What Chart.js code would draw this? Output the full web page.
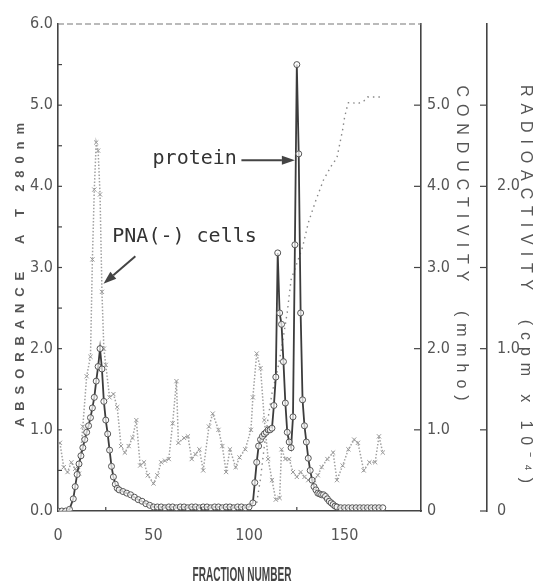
<!DOCTYPE html>
<html><head><meta charset="utf-8">
<script src="https://cdn.jsdelivr.net/npm/chart.js@4.4.0/dist/chart.umd.min.js"></script>
<style>html,body{margin:0;padding:0;background:#fff;}canvas{display:block}</style>
</head><body>
<canvas id="c" width="543" height="584"></canvas>
<script>
// ---- data ----
const absFractions = [0,2,4,6,8,9,10,11,12,13,14,15,16,17,18,19,20,21,22,23,24,25,26,27,28,29,30,31,32,
  34,36,38,40,42,44,46,48,50,52,54,56,58,60,62,64,66,68,70,72,74,76,78,80,82,84,86,88,90,92,94,96,98,100,
  102,103,104,105,106,107,108,109,110,111,112,113,114,115,116,117,118,119,120,121,122,123,124,125,126,127,128,
  129,130,131,132,133,134,135,136,137,138,139,140,141,142,143,144,145,146,148,150,152,154,156,158,160,162,164,166,168,170];
const absorbance = [0,0,0,0.02,0.15,0.3,0.45,0.58,0.68,0.78,0.88,0.97,1.05,1.15,1.27,1.4,1.6,1.78,2.0,1.75,1.35,1.12,0.95,0.75,0.55,0.42,0.33,0.28,0.26,
  0.24,0.22,0.2,0.17,0.14,0.12,0.09,0.07,0.05,0.05,0.05,0.04,0.05,0.05,0.04,0.05,0.05,0.04,0.05,0.05,0.04,0.05,0.05,0.04,0.05,0.05,0.04,0.05,0.05,0.04,0.05,0.05,0.04,0.05,
  0.1,0.35,0.6,0.8,0.88,0.92,0.95,0.97,1.0,1.0,1.02,1.3,1.65,3.18,2.44,2.3,1.84,1.33,0.97,0.85,0.78,1.16,3.28,5.5,4.4,2.44,1.37,
  1.05,0.85,0.65,0.5,0.38,0.3,0.26,0.22,0.21,0.2,0.2,0.18,0.15,0.12,0.1,0.08,0.06,0.05,0.04,0.04,0.04,0.04,0.04,0.04,0.04,0.04,0.04,0.04,0.04,0.04];

const radioFractions = [1,3,5,7,9,11,13,15,17,18,19,20,21,22,23,24,25,27,29,31,33,35,37,39,41,43,45,47,
  50,52,54,56,58,60,62,63,66,68,70,72,74,76,79,81,84,86,88,90,93,95,98,101,102,104,106,108,110,112,114,116,117,
  119,121,123,125,127,129,131,134,136,138,141,144,146,149,152,155,157,160,163,166,168,170];
const radioactivity = [0.42,0.27,0.24,0.3,0.26,0.23,0.52,0.83,0.95,1.55,1.98,2.27,2.22,1.95,1.35,1.0,0.9,0.7,0.72,0.64,0.4,0.36,0.4,0.45,0.56,0.28,0.3,0.22,
  0.17,0.22,0.3,0.31,0.32,0.54,0.8,0.42,0.45,0.46,0.32,0.35,0.38,0.25,0.52,0.6,0.5,0.4,0.24,0.38,0.27,0.33,0.38,0.5,0.7,0.97,0.88,0.56,0.32,0.19,0.07,0.08,0.38,
  0.32,0.32,0.24,0.21,0.24,0.21,0.19,0.19,0.22,0.27,0.32,0.36,0.19,0.28,0.38,0.44,0.42,0.25,0.3,0.3,0.46,0.36];

const condFractions = [104,106,108,110,112,115,117,120,122,125,128,131,135,139,143,146,149,150,151,152,154,157,160,162,165,168,170];
const conductivity = [0.1,0.4,0.8,1.15,1.45,1.75,2.0,2.45,2.85,3.05,3.25,3.55,3.83,4.08,4.25,4.35,4.7,4.85,4.95,5.03,5.03,5.02,5.05,5.1,5.1,5.1,5.1];

const xTickLabels = [0, 50, 100, 150];
const absTickLabels = [0, 1, 2, 3, 4, 5, 6];
const condTickLabels = [0, 1, 2, 3, 4, 5];
const radioTickLabels = [0, 1, 2];

// ---- text ----
const xTitle = 'FRACTION NUMBER';
const yTitle = 'ABSORBANCE  A T 280nm';
const condTitle = 'CONDUCTIVITY  (mmho)';
const radioTitle = 'RADIOACTIVITY  (cpm x 10\u207B\u2074)';
const notes = [
  {text: 'protein', tx: 49.5, ty: 4.28, from: [96, 4.32], to: [124, 4.32]},
  {text: 'PNA(-) cells', tx: 28.4, ty: 3.31, from: [40.5, 3.14], to: [23.8, 2.8]}
];

const pts = (xs, ys) => xs.map((x, i) => ({x, y: ys[i]}));
const tickFont = {family: '"DejaVu Sans Condensed", "DejaVu Sans", sans-serif', size: 16};
const inkGrey = '#555';

function spacedText(ctx, text, cx, cy, rot, font, len, color) {
  ctx.save();
  ctx.translate(cx, cy); ctx.rotate(rot);
  ctx.font = font; ctx.fillStyle = color; ctx.textBaseline = 'middle'; ctx.textAlign = 'left';
  const chars = [...text];
  const widths = chars.map(c => ctx.measureText(c).width);
  const total = widths.reduce((a, b) => a + b, 0);
  const gap = (len - total) / (chars.length - 1);
  let x = -len / 2;
  chars.forEach((c, i) => { ctx.fillText(c, x, 0); x += widths[i] + gap; });
  ctx.restore();
}

function arrow(ctx, x1, y1, x2, y2) {
  const a = Math.atan2(y2 - y1, x2 - x1), L = 13, W = 4.5;
  const bx = x2 - L * Math.cos(a), by = y2 - L * Math.sin(a);
  ctx.beginPath(); ctx.moveTo(x1, y1); ctx.lineTo(bx, by); ctx.stroke();
  ctx.beginPath(); ctx.moveTo(x2, y2);
  ctx.lineTo(bx + W * Math.sin(a), by - W * Math.cos(a));
  ctx.lineTo(bx - W * Math.sin(a), by + W * Math.cos(a));
  ctx.closePath(); ctx.fill();
}

const overlay = {
  id: 'overlay',
  afterDraw(chart) {
    const {ctx, chartArea: ca} = chart;
    const {x, y, yc, yr} = chart.scales;
    const seg = (a, b, c, d) => { ctx.beginPath(); ctx.moveTo(a, b); ctx.lineTo(c, d); ctx.stroke(); };
    ctx.save();
    // top frame (dashed)
    ctx.strokeStyle = '#777'; ctx.lineWidth = 1.2; ctx.setLineDash([6, 3]);
    seg(ca.left, ca.top, ca.right, ca.top);
    ctx.setLineDash([]);
    // inward ticks
    ctx.strokeStyle = '#444'; ctx.lineWidth = 1.2;
    for (let v = 0.5; v < 6; v += 0.5) { const p = y.getPixelForValue(v); seg(ca.left, p, ca.left + 4, p); }
    for (const v of [25, 75, 125]) { const p = x.getPixelForValue(v); seg(p, ca.bottom, p, ca.bottom - 4); }
    for (let v = 1; v <= 5; v++) { const p = yc.getPixelForValue(v); seg(yc.left - 7, p, yc.left, p); }
    for (let v = 0; v <= 2.5; v += 0.5) { const p = yr.getPixelForValue(v); seg(yr.left - 7, p, yr.left, p); }
    // axis titles
    const titleFont = '16px "Liberation Sans", Arial, sans-serif';
    spacedText(ctx, yTitle, 20, 275, -Math.PI / 2, 'bold 13px "Liberation Sans", Arial, sans-serif', 304, '#555');
    spacedText(ctx, condTitle, 461, 243, Math.PI / 2, titleFont, 315, '#555');
    spacedText(ctx, radioTitle, 525, 284, Math.PI / 2, titleFont, 398, '#555');
    // x title (tall condensed lettering)
    ctx.save();
    ctx.font = 'bold 21px "Liberation Sans", sans-serif';
    const w = ctx.measureText(xTitle).width;
    ctx.translate(242, 574); ctx.scale(99 / w, 1);
    ctx.fillStyle = '#444'; ctx.textAlign = 'center'; ctx.textBaseline = 'middle';
    ctx.fillText(xTitle, 0, 1);
    ctx.restore();
    // annotations
    ctx.fillStyle = '#333'; ctx.strokeStyle = '#444'; ctx.lineWidth = 2;
    ctx.font = '20px "DejaVu Sans Mono", monospace';
    ctx.textBaseline = 'alphabetic'; ctx.textAlign = 'left';
    for (const n of notes) {
      ctx.fillText(n.text, x.getPixelForValue(n.tx), y.getPixelForValue(n.ty));
      ctx.fillStyle = '#444';
      arrow(ctx, x.getPixelForValue(n.from[0]), y.getPixelForValue(n.from[1]),
                 x.getPixelForValue(n.to[0]), y.getPixelForValue(n.to[1]));
      ctx.fillStyle = '#333';
    }
    ctx.restore();
  }
};

const fmt1 = v => v.toFixed(1);
const noGrid = {display: false, drawTicks: false};

new Chart(document.getElementById('c'), {
  type: 'line',
  data: {
    datasets: [
      {label: 'Absorbance', data: pts(absFractions, absorbance), yAxisID: 'y',
        borderColor: '#3c3c3c', borderWidth: 1.8, tension: 0,
        pointStyle: 'circle', pointRadius: 3, pointBorderWidth: 1,
        pointBorderColor: '#555', pointBackgroundColor: 'rgba(255,255,255,0.7)'},
      {label: 'Conductivity', data: pts(condFractions, conductivity), yAxisID: 'yc',
        borderColor: '#888', borderWidth: 1.4, borderDash: [1.5, 4], tension: 0, pointRadius: 0},
      {label: 'Radioactivity', data: pts(radioFractions, radioactivity), yAxisID: 'yr',
        borderColor: '#a0a0a0', borderWidth: 1.5, borderDash: [1.5, 1.8], tension: 0,
        pointStyle: 'crossRot', pointRadius: 3, pointBorderWidth: 1, pointBorderColor: '#999'}
    ]
  },
  options: {
    responsive: false, animation: false, devicePixelRatio: 1,
    layout: {padding: {top: 24, left: 0, right: 0, bottom: 0}},
    plugins: {legend: {display: false}, tooltip: {enabled: false}},
    scales: {
      x: {type: 'linear', position: 'bottom', min: 0, max: 190,
        afterFit: s => { s.height = 73; },
        grid: noGrid, border: {color: '#444', width: 1.6},
        ticks: {stepSize: 50, autoSkip: false, maxRotation: 0, padding: 15, color: inkGrey, font: tickFont,
          callback: v => xTickLabels.includes(v) ? String(v) : null}},
      y: {position: 'left', min: 0, max: 6,
        afterFit: s => { s.width = 58; },
        grid: noGrid, border: {color: '#444', width: 1.6},
        ticks: {stepSize: 1, padding: 5, color: inkGrey, font: tickFont,
          callback: v => absTickLabels.includes(v) ? fmt1(v) : null}},
      yc: {position: 'right', min: 0, max: 6, weight: 0,
        afterFit: s => { s.width = 66; },
        grid: noGrid, border: {color: '#444', width: 1.6},
        ticks: {stepSize: 1, padding: 6, color: inkGrey, font: tickFont,
          callback: v => condTickLabels.includes(v) ? (v === 0 ? '0' : fmt1(v)) : null}},
      yr: {position: 'right', min: 0, max: 3, weight: 1,
        afterFit: s => { s.width = 56; },
        grid: noGrid, border: {color: '#444', width: 1.6},
        ticks: {stepSize: 0.5, padding: 10, color: inkGrey, font: tickFont,
          callback: v => radioTickLabels.includes(v) ? (v === 0 ? '0' : fmt1(v)) : null}}
    }
  },
  plugins: [overlay]
});
</script>
</body></html>
